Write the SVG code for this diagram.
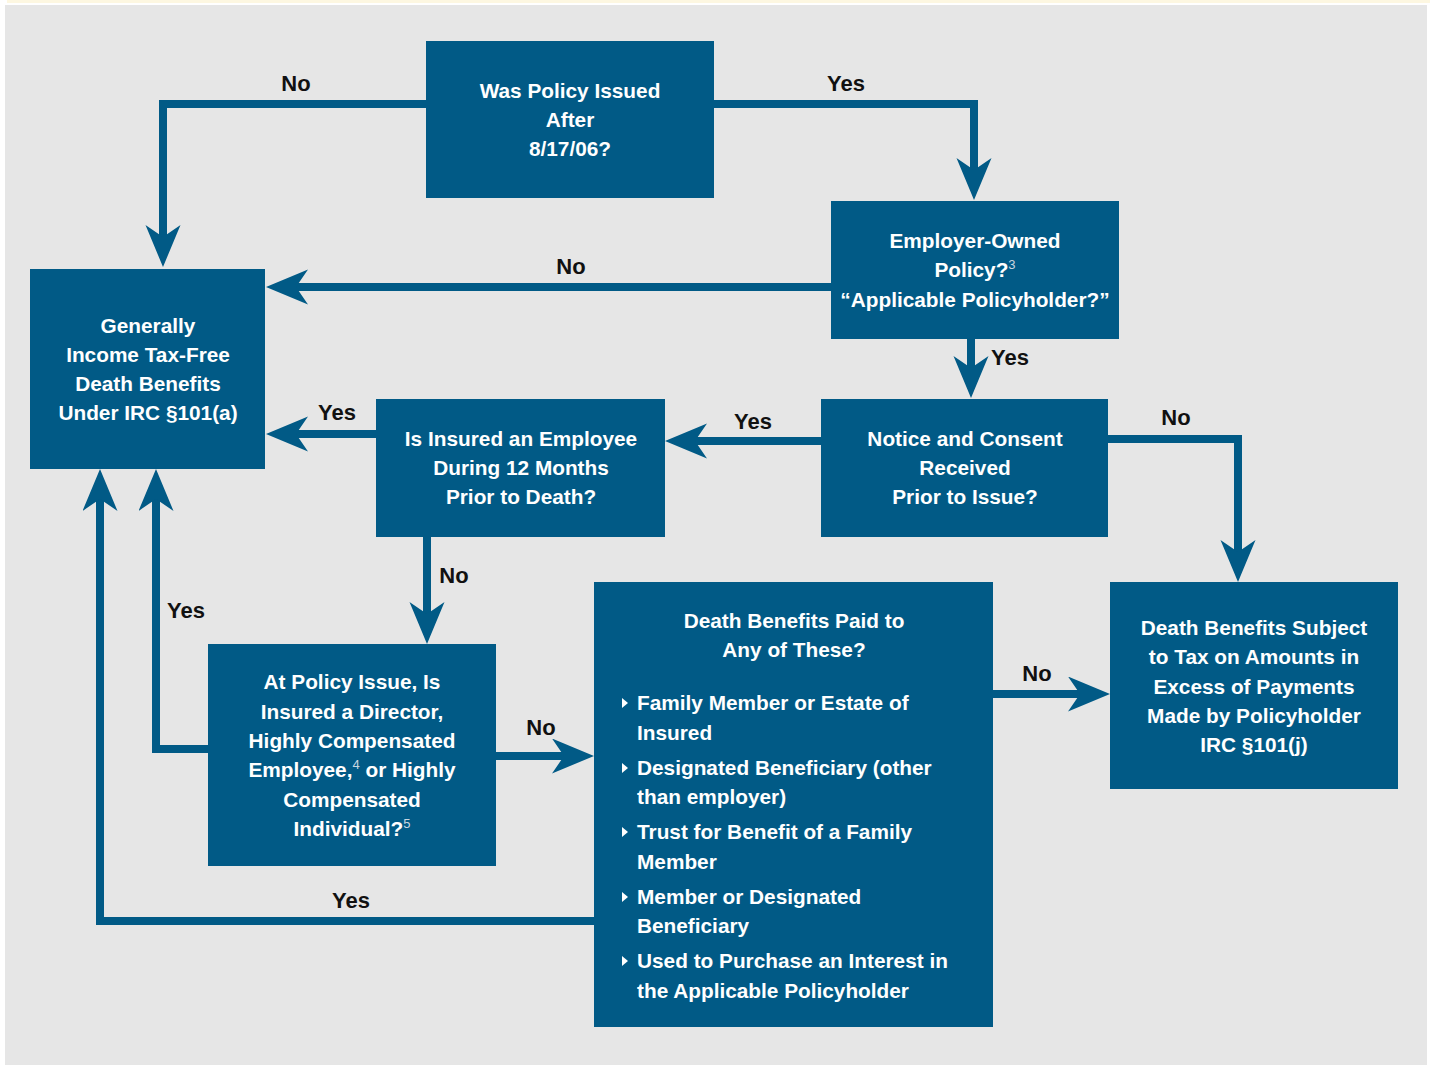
<svg xmlns="http://www.w3.org/2000/svg" width="1430" height="1066" viewBox="0 0 1430 1066">
<defs>
<style>
.box{fill:#015a86}
.t{font-family:"Liberation Sans",Arial,sans-serif;font-weight:bold;font-size:20.8px;fill:#ffffff}
.c{text-anchor:middle}
.sup{font-weight:normal;font-size:13px;fill:#c8d6e0}
.lbl{font-family:"Liberation Sans",Arial,sans-serif;font-weight:bold;font-size:22px;fill:#111111;text-anchor:middle}
.con{fill:none;stroke:#015a86;stroke-width:8;stroke-linejoin:miter;stroke-linecap:butt}
.bul{fill:#ffffff}
</style>
<marker id="ah" markerUnits="userSpaceOnUse" markerWidth="44" markerHeight="36" refX="12" refY="17.5" orient="auto" viewBox="0 0 44 36">
<path d="M0,0 L42,17.5 L0,35 L12,17.5 Z" fill="#015a86"/>
</marker>
</defs>
<rect x="0" y="0" width="1430" height="1066" fill="#ffffff"/>
<rect x="7" y="0" width="1423" height="3" fill="#fdf7e1"/>
<rect x="5" y="5" width="1422" height="1060" fill="#e6e6e6"/>

<g id="connectors">
<path class="con" d="M426,104 H163 V237" marker-end="url(#ah)"/>
<path class="con" d="M714,104 H974 V170" marker-end="url(#ah)"/>
<path class="con" d="M831,287 H296" marker-end="url(#ah)"/>
<path class="con" d="M971,339 V368" marker-end="url(#ah)"/>
<path class="con" d="M821,441 H695" marker-end="url(#ah)"/>
<path class="con" d="M1108,439 H1238 V552" marker-end="url(#ah)"/>
<path class="con" d="M376,434 H296" marker-end="url(#ah)"/>
<path class="con" d="M427,537 V614" marker-end="url(#ah)"/>
<path class="con" d="M208,749 H156 V499" marker-end="url(#ah)"/>
<path class="con" d="M594,921 H100 V499" marker-end="url(#ah)"/>
<path class="con" d="M496,756 H564" marker-end="url(#ah)"/>
<path class="con" d="M993,694 H1080" marker-end="url(#ah)"/>
<text class="lbl" x="296" y="91">No</text>
<text class="lbl" x="846" y="91">Yes</text>
<text class="lbl" x="571" y="274">No</text>
<text class="lbl" x="1010" y="365">Yes</text>
<text class="lbl" x="753" y="429">Yes</text>
<text class="lbl" x="1176" y="425">No</text>
<text class="lbl" x="337" y="420">Yes</text>
<text class="lbl" x="454" y="583">No</text>
<text class="lbl" x="186" y="618">Yes</text>
<text class="lbl" x="351" y="908">Yes</text>
<text class="lbl" x="541" y="735">No</text>
<text class="lbl" x="1037" y="681">No</text>
</g>

<g id="n-issued">
<rect class="box" x="426" y="41" width="288" height="157"/>
<text class="t c" x="570" y="98">Was Policy Issued</text>
<text class="t c" x="570" y="127">After</text>
<text class="t c" x="570" y="156">8/17/06?</text>
</g>

<g id="n-employer">
<rect class="box" x="831" y="201" width="288" height="138"/>
<text class="t c" x="975" y="248">Employer-Owned</text>
<text class="t c" x="975" y="277">Policy?<tspan class="sup" dy="-8">3</tspan></text>
<text class="t c" x="975" y="307">“Applicable Policyholder?”</text>
</g>

<g id="n-taxfree">
<rect class="box" x="30" y="269" width="235" height="200"/>
<text class="t c" x="148" y="333">Generally</text>
<text class="t c" x="148" y="362">Income Tax-Free</text>
<text class="t c" x="148" y="391">Death Benefits</text>
<text class="t c" x="148" y="420">Under IRC §101(a)</text>
</g>

<g id="n-employee">
<rect class="box" x="376" y="399" width="289" height="138"/>
<text class="t c" x="521" y="446">Is Insured an Employee</text>
<text class="t c" x="521" y="475">During 12 Months</text>
<text class="t c" x="521" y="504">Prior to Death?</text>
</g>

<g id="n-notice">
<rect class="box" x="821" y="399" width="287" height="138"/>
<text class="t c" x="965" y="446">Notice and Consent</text>
<text class="t c" x="965" y="475">Received</text>
<text class="t c" x="965" y="504">Prior to Issue?</text>
</g>

<g id="n-director">
<rect class="box" x="208" y="644" width="288" height="222"/>
<text class="t c" x="352" y="689">At Policy Issue, Is</text>
<text class="t c" x="352" y="719">Insured a Director,</text>
<text class="t c" x="352" y="748">Highly Compensated</text>
<text class="t c" x="352" y="777">Employee,<tspan class="sup" dy="-8">4</tspan><tspan dy="8"> or Highly</tspan></text>
<text class="t c" x="352" y="807">Compensated</text>
<text class="t c" x="352" y="836">Individual?<tspan class="sup" dy="-8">5</tspan></text>
</g>

<g id="n-paid">
<rect class="box" x="594" y="582" width="399" height="445"/>
<text class="t c" x="794" y="628">Death Benefits Paid to</text>
<text class="t c" x="794" y="657">Any of These?</text>
<path class="bul" d="M622,698 L628,703 L622,708 Z"/>
<text class="t" x="637" y="710">Family Member or Estate of</text>
<text class="t" x="637" y="740">Insured</text>
<path class="bul" d="M622,763 L628,768 L622,773 Z"/>
<text class="t" x="637" y="775">Designated Beneficiary (other</text>
<text class="t" x="637" y="804">than employer)</text>
<path class="bul" d="M622,827 L628,832 L622,837 Z"/>
<text class="t" x="637" y="839">Trust for Benefit of a Family</text>
<text class="t" x="637" y="869">Member</text>
<path class="bul" d="M622,892 L628,897 L622,902 Z"/>
<text class="t" x="637" y="904">Member or Designated</text>
<text class="t" x="637" y="933">Beneficiary</text>
<path class="bul" d="M622,956 L628,961 L622,966 Z"/>
<text class="t" x="637" y="968">Used to Purchase an Interest in</text>
<text class="t" x="637" y="998">the Applicable Policyholder</text>
</g>

<g id="n-taxed">
<rect class="box" x="1110" y="582" width="288" height="207"/>
<text class="t c" x="1254" y="635">Death Benefits Subject</text>
<text class="t c" x="1254" y="664">to Tax on Amounts in</text>
<text class="t c" x="1254" y="694">Excess of Payments</text>
<text class="t c" x="1254" y="723">Made by Policyholder</text>
<text class="t c" x="1254" y="752">IRC §101(j)</text>
</g>
</svg>
